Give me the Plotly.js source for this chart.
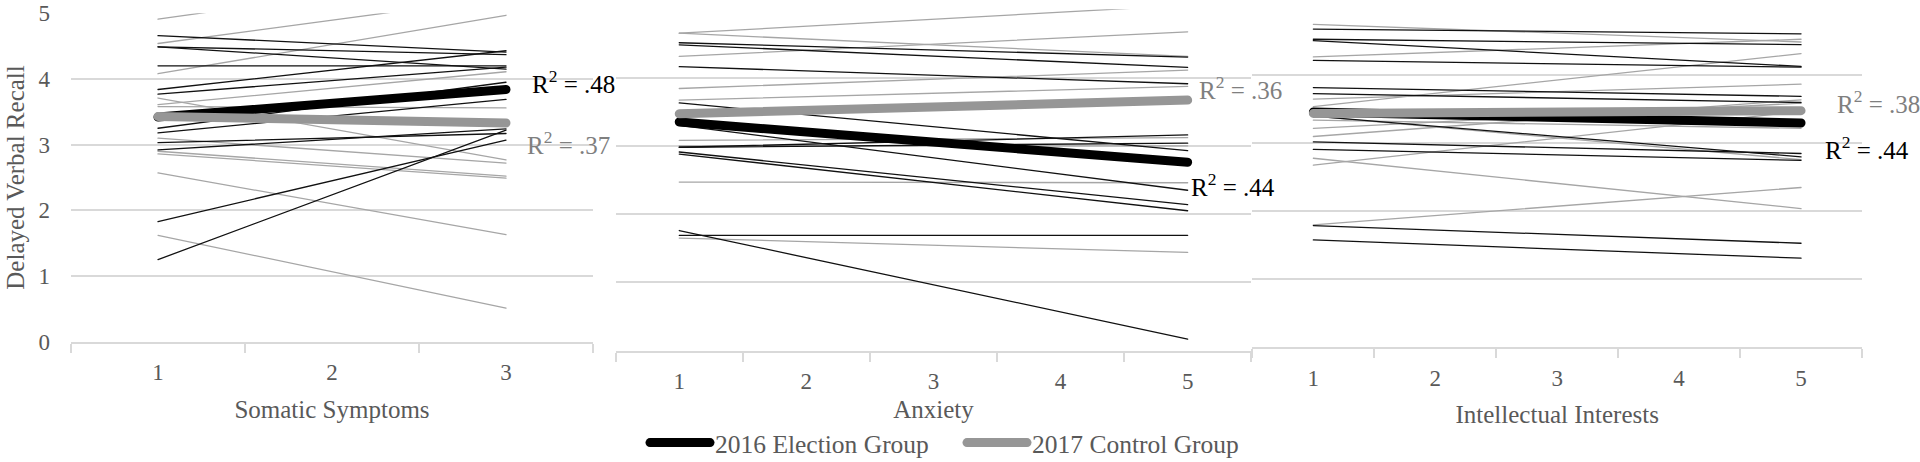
<!DOCTYPE html>
<html><head><meta charset="utf-8">
<script src="https://cdn.plot.ly/plotly-3.0.1.min.js"></script>
<style>
html,body{margin:0;padding:0;background:#fff;}
#chart{width:1920px;height:462px;}
.scatterlayer .js-line{stroke-linecap:round;}
.legend .js-line{stroke-linecap:round;}
</style></head><body><div id="chart"></div>
<script>
// ---- tick labels (levels of each trait) ----
const somaticTicks   = ['1','2','3'];
const anxietyTicks   = ['1','2','3','4','5'];
const intellectTicks = ['1','2','3','4','5'];

// ---- individual participant trend lines (value at lowest and highest level) ----
const somaticElectionStart = [4.66,4.49,4.49,4.20,3.84,3.77,3.25,3.18,3.03,2.92,1.83,1.25];
const somaticElectionEnd   = [4.41,4.37,4.15,4.20,4.43,4.18,3.95,3.69,3.17,3.24,3.07,3.22];
const somaticControlStart  = [4.91,4.54,4.08,3.61,3.58,3.71,3.10,2.90,2.86,2.57,1.62];
const somaticControlEnd    = [5.66,5.25,4.97,4.11,3.56,2.77,2.72,2.52,2.49,1.63,0.51];

const anxietyElectionStart = [4.51,4.48,4.16,3.63,3.30,2.98,2.98,2.91,2.88,1.76,1.69];
const anxietyElectionEnd   = [4.30,4.15,3.91,2.93,2.35,3.16,3.04,2.14,2.05,0.17,1.69];
const anxietyControlStart  = [4.65,4.65,4.31,3.84,3.67,3.08,3.00,2.47,1.65];
const anxietyControlEnd    = [5.06,4.31,4.67,4.11,3.87,3.12,3.00,2.46,1.44];

const intellectElectionStart = [4.68,4.53,4.51,4.22,3.82,3.73,3.40,3.02,2.91,1.79,1.58];
const intellectElectionEnd   = [4.61,4.45,4.13,4.12,3.69,3.60,2.80,2.85,2.75,1.53,1.31];
const intellectControlStart  = [4.75,4.27,3.65,3.54,3.34,3.22,3.10,2.68,2.78,1.80,3.40];
const intellectControlEnd    = [4.49,4.53,3.87,4.32,3.22,3.59,3.64,3.47,2.04,2.35,2.76];

// ---- group regression lines ----
const somaticElectionFit   = [3.42,3.84];
const somaticControlFit    = [3.43,3.33];
const anxietyElectionFit   = [3.35,2.76];
const anxietyControlFit    = [3.47,3.67];
const intellectElectionFit = [3.46,3.30];
const intellectControlFit  = [3.44,3.48];

// ---- labels ----
const panelTitles = ['Somatic Symptoms','Anxiety','Intellectual Interests'];
const groupNames  = ['2016 Election Group','2017 Control Group'];
const r2Election  = ['.48','.44','.44'];
const r2Control   = ['.37','.36','.38'];
const yTitle = 'Delayed Verbal Recall';

const FONT = 'Liberation Serif, Times New Roman, serif';
const BLACK = '#000000', GRAY = '#a6a6a6', FITGRAY = '#969696';

const traces = [];
function addPanel(k, ticks, eS, eE, cS, cE, eFit, cFit){
  const xa = k===1 ? 'x' : 'x'+k, ya = k===1 ? 'y' : 'y'+k;
  const xs = [ticks[0], ticks[ticks.length-1]];
  for(let i=0;i<cS.length;i++) traces.push({x:xs,y:[cS[i],cE[i]],xaxis:xa,yaxis:ya,mode:'lines',
    line:{color:GRAY,width:1.3},showlegend:false,hoverinfo:'skip'});
  for(let i=0;i<eS.length;i++) traces.push({x:xs,y:[eS[i],eE[i]],xaxis:xa,yaxis:ya,mode:'lines',
    line:{color:'#111',width:1.3},showlegend:false,hoverinfo:'skip'});
  traces.push({x:xs,y:eFit,xaxis:xa,yaxis:ya,mode:'lines',name:groupNames[0],legendgroup:'e',
    line:{color:BLACK,width:9},showlegend:k===1});
  traces.push({x:xs,y:cFit,xaxis:xa,yaxis:ya,mode:'lines',name:groupNames[1],legendgroup:'c',
    line:{color:FITGRAY,width:9},showlegend:k===1});
}
addPanel(1, somaticTicks, somaticElectionStart, somaticElectionEnd, somaticControlStart, somaticControlEnd, somaticElectionFit, somaticControlFit);
addPanel(2, anxietyTicks, anxietyElectionStart, anxietyElectionEnd, anxietyControlStart, anxietyControlEnd, anxietyElectionFit, anxietyControlFit);
addPanel(3, intellectTicks, intellectElectionStart, intellectElectionEnd, intellectControlStart, intellectControlEnd, intellectElectionFit, intellectControlFit);

const W=1920, H=462;
function xaxisDef(px0, px1, ticks, title, standoff, anchor){
  return {domain:[px0/W, px1/W], type:'category', categoryorder:'array', categoryarray:ticks,
    range:[-0.5, ticks.length-0.5], showline:true, linecolor:'#d9d9d9', linewidth:2,
    ticks:'outside', tickson:'boundaries', ticklen:9, tickwidth:2, tickcolor:'#d9d9d9',
    showgrid:false, zeroline:false, automargin:false, anchor:anchor, fixedrange:true,
    tickfont:{family:FONT,size:23,color:'#595959'}, ticklabelstandoff:9,
    title:{text:title, font:{family:FONT,size:25,color:'#595959'}, standoff:standoff}};
}
function yaxisDef(top, bottom, showLabels, anchor){
  const a = {domain:[1-bottom/H, 1-top/H], range:[0,5], tickvals:[0,1,2,3,4,5],
    showgrid:true, gridcolor:'#d9d9d9', gridwidth:2, zeroline:false, showline:false, ticks:'',
    showticklabels:showLabels, automargin:false, anchor:anchor, fixedrange:true,
    tickfont:{family:FONT,size:23,color:'#595959'}, ticklabelstandoff:20};
  if(showLabels) a.title = {text:yTitle, font:{family:FONT,size:25,color:'#595959'}, standoff:6};
  return a;
}

const annPos = [
  {e:[530,82], c:[525,143]},
  {e:[1189,185], c:[1197,88]},
  {e:[1823,148], c:[1835,102]}
];
const annotations = [];
for(let k=0;k<3;k++){
  annotations.push({xref:'paper',yref:'paper',x:annPos[k].e[0]/W,y:1-annPos[k].e[1]/H,xanchor:'left',yanchor:'middle',
    text:'R<sup>2</sup> = '+r2Election[k],showarrow:false,font:{family:FONT,size:25,color:'#000'}});
  annotations.push({xref:'paper',yref:'paper',x:annPos[k].c[0]/W,y:1-annPos[k].c[1]/H,xanchor:'left',yanchor:'middle',
    text:'R<sup>2</sup> = '+r2Control[k],showarrow:false,font:{family:FONT,size:25,color:'#7f7f7f'}});
}

const layout = {
  width:W, height:H, margin:{l:0,r:0,t:0,b:0,autoexpand:false}, paper_bgcolor:'#fff', plot_bgcolor:'rgba(0,0,0,0)',
  showlegend:true,
  legend:{orientation:'h', x:645/W, xanchor:'left', y:1-443/H, yanchor:'middle', itemwidth:60,
    entrywidth:242, entrywidthmode:'pixels',
    font:{family:FONT,size:25.5,color:'#595959'}, bgcolor:'rgba(0,0,0,0)', traceorder:'normal'},
  xaxis: xaxisDef(71, 593, somaticTicks, panelTitles[0], 16, 'y'),
  yaxis: yaxisDef(13.3, 341.7, true, 'x'),
  xaxis2: xaxisDef(615.7, 1251.2, anxietyTicks, panelTitles[1], 7, 'y2'),
  yaxis2: yaxisDef(9.3, 350.7, false, 'x2'),
  xaxis3: xaxisDef(1252.4, 1862, intellectTicks, panelTitles[2], 16, 'y3'),
  yaxis3: yaxisDef(7.3, 347.3, false, 'x3'),
  annotations: annotations
};
Plotly.newPlot('chart', traces, layout, {displayModeBar:false, staticPlot:true});
</script></body></html>
